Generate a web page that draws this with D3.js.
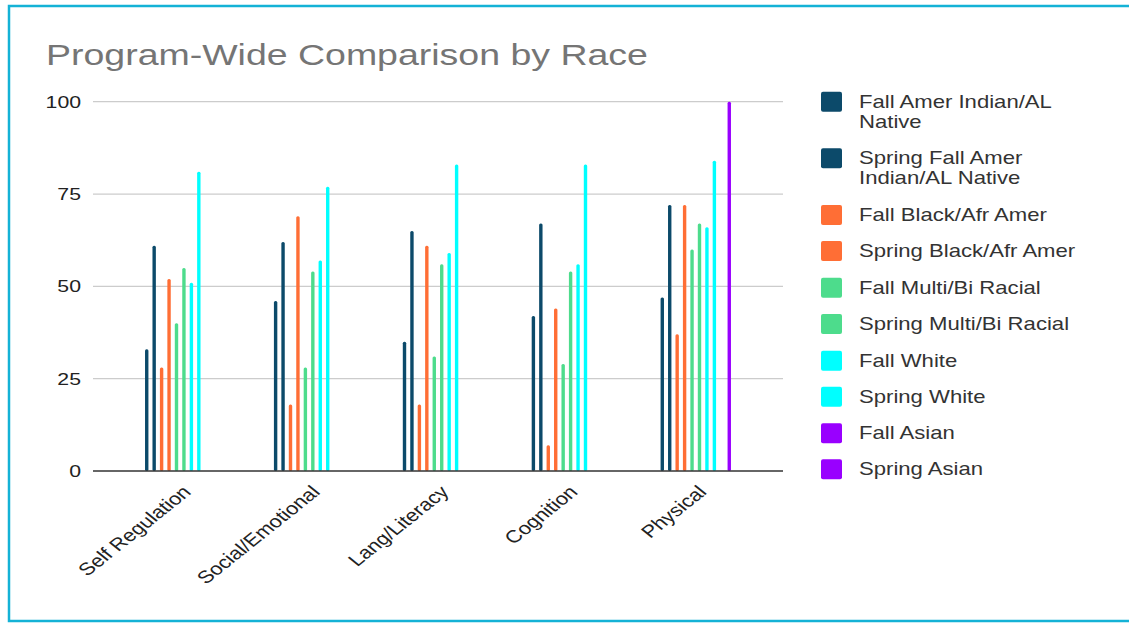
<!DOCTYPE html>
<html><head><meta charset="utf-8">
<script src="https://cdn.jsdelivr.net/npm/d3@7"></script>
<style>
html,body{margin:0;padding:0;background:#fff;}
svg{display:block;font-family:"Liberation Sans",Arial,sans-serif;}
</style></head>
<body>
<svg id="chart" width="1129" height="624"></svg>
<script>
const categories = ["Self Regulation","Social/Emotional","Lang/Literacy","Cognition","Physical"];
const seriesNames = ["Fall Amer Indian/AL Native","Spring Fall Amer Indian/AL Native","Fall Black/Afr Amer","Spring Black/Afr Amer","Fall Multi/Bi Racial","Spring Multi/Bi Racial","Fall White","Spring White","Fall Asian","Spring Asian"];
const legendLines = [["Fall Amer Indian/AL","Native"],["Spring Fall Amer","Indian/AL Native"],["Fall Black/Afr Amer"],["Spring Black/Afr Amer"],["Fall Multi/Bi Racial"],["Spring Multi/Bi Racial"],["Fall White"],["Spring White"],["Fall Asian"],["Spring Asian"]];
const seriesColors = ["#0c4a6a","#0c4a6a","#ff6e35","#ff6e35","#4ddc8c","#4ddc8c","#00ffff","#00ffff","#9900ff","#9900ff"];
const fallAmerIndian   = [33, 46, 35, 42, 47];
const springAmerIndian = [61, 62, 65, 67, 72];
const fallBlack        = [28, 18, 18, 7, 37];
const springBlack      = [52, 69, 61, 44, 72];
const fallMulti        = [40, 28, 31, 29, 60];
const springMulti      = [55, 54, 56, 54, 67];
const fallWhite        = [51, 57, 59, 56, 66];
const springWhite      = [81, 77, 83, 83, 84];
const fallAsian        = [null, null, null, null, null];
const springAsian      = [null, null, null, null, 100];
const yTicks = [0, 25, 50, 75, 100];
const title = "Program-Wide Comparison by Race";

const seriesValues = [fallAmerIndian, springAmerIndian, fallBlack, springBlack, fallMulti, springMulti, fallWhite, springWhite, fallAsian, springAsian];

const SX = 1.25; // horizontal stretch of all text in the reference
const stretch = (x, y) => `translate(${x},${y}) scale(${SX},1) translate(${-x},${-y})`;

const svg = d3.select("#chart");

// frame
svg.append("rect").attr("x",9).attr("y",6).attr("width",1140).attr("height",615)
  .attr("fill","none").attr("stroke","#14b2d6").attr("stroke-width",2.5);

svg.append("text").attr("x",46).attr("y",65).attr("fill","#757575")
  .attr("font-size",30).attr("transform",stretch(46,65)).text(title);

const plot = {left:93, right:783, top:101.7, bottom:471};

const y = d3.scaleLinear().domain([0,100]).range([plot.bottom, plot.top]);
const x0 = d3.scaleBand().domain(categories).range([plot.left, plot.right])
  .paddingInner(0.4225).paddingOuter(0.388);
const x1 = d3.scaleBand().domain(d3.range(seriesNames.length)).range([0, x0.bandwidth()]);

// grid
const grid = svg.append("g");
grid.selectAll("line").data(yTicks.filter(t=>t>0)).join("line")
  .attr("x1",plot.left).attr("x2",plot.right)
  .attr("y1",d=>y(d)).attr("y2",d=>y(d))
  .attr("stroke","#cccccc").attr("stroke-width",1.2);

// y axis labels
const yAxis = d3.axisLeft(y).tickValues(yTicks).tickSize(0).tickPadding(12);
const yg = svg.append("g").attr("transform",`translate(${plot.left},0)`).call(yAxis);
yg.select(".domain").remove();
yg.selectAll("text").attr("font-size",17).attr("fill","#222")
  .attr("font-family","Liberation Sans, Arial, sans-serif")
  .attr("transform",stretch(-12,0));

// bars
const bw = 3.4;
const data = [];
categories.forEach((c,ci)=>{
  seriesValues.forEach((arr,si)=>{
    const v = arr[ci];
    if (v != null) data.push({c, si, v});
  });
});
svg.append("g").selectAll("rect").data(data).join("rect")
  .attr("x",d=>x0(d.c)+x1(d.si)+x1.bandwidth()/2-bw/2)
  .attr("width",bw)
  .attr("y",d=>y(d.v))
  .attr("height",d=>y(0)-y(d.v))
  .attr("rx",1.5)
  .attr("fill",d=>seriesColors[d.si]);

// x axis
const xAxis = d3.axisBottom(x0).tickSize(0).tickPadding(0);
const xg = svg.append("g").attr("transform",`translate(0,${plot.bottom})`).call(xAxis);
xg.select(".domain").attr("d",`M${plot.left},0H${plot.right}`).attr("stroke","#333").attr("stroke-width",1.5);
xg.selectAll(".tick text")
  .attr("font-size",17.5).attr("fill","#222").attr("font-family","Liberation Sans, Arial, sans-serif")
  .attr("text-anchor","end").attr("dy",0).attr("y",0)
  .attr("transform",`translate(12,22) scale(${SX},1) rotate(-45)`);

// legend
const legendY = [101.7,158.3,215,251,287.7,324,360.7,396.7,433.3,469.3];
const lg = svg.append("g");
seriesNames.forEach((s,i)=>{
  const g = lg.append("g").attr("transform",`translate(821,${legendY[i]})`);
  g.append("rect").attr("x",0).attr("y",-10).attr("width",21).attr("height",20).attr("rx",2)
    .attr("fill",seriesColors[i]);
  const t = g.append("text").attr("x",38).attr("y",0).attr("font-size",17.7).attr("fill","#333")
    .attr("dominant-baseline","central").attr("transform",stretch(38,0));
  legendLines[i].forEach((ln,li)=>{
    t.append("tspan").attr("x",38).attr("dy",li===0?0:20).text(ln);
  });
});
</script>
</body></html>
